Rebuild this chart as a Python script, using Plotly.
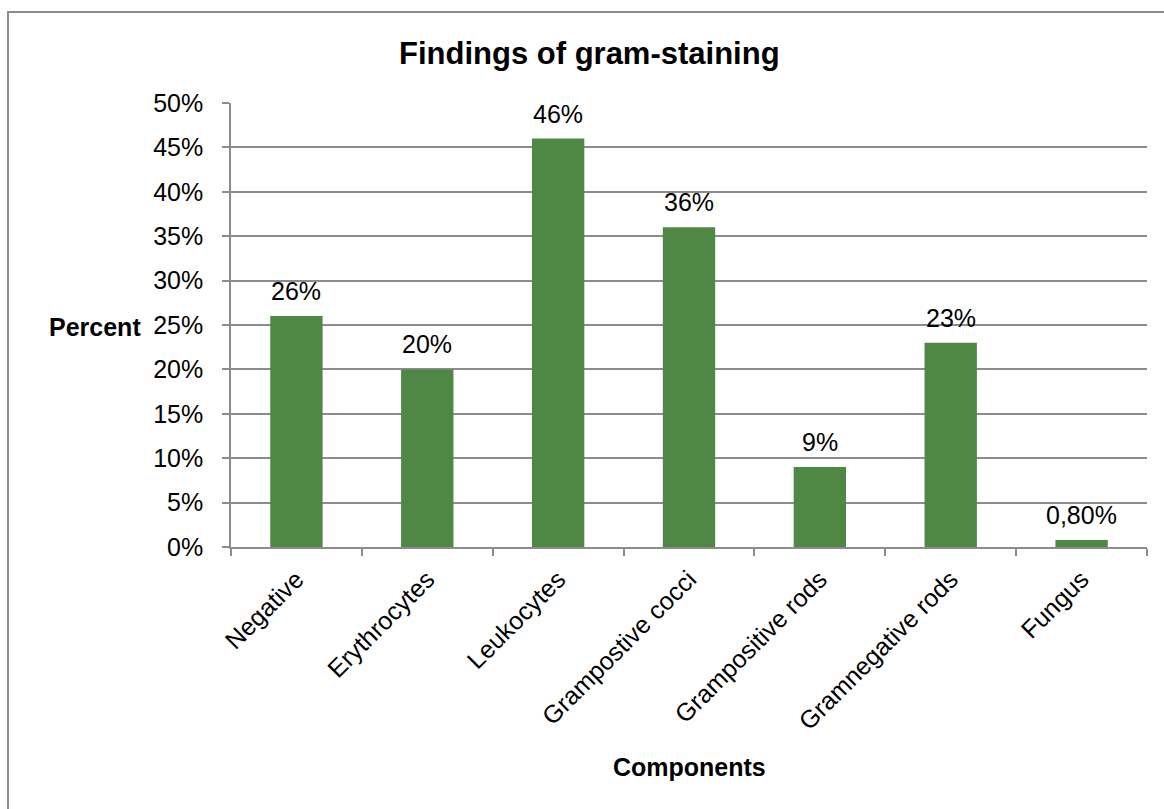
import plotly.graph_objects as go

# Gram-staining findings
categories = ["Negative", "Erythrocytes", "Leukocytes", "Grampostive cocci",
              "Grampositive rods", "Gramnegative rods", "Fungus"]
values = [0.26, 0.20, 0.46, 0.36, 0.09, 0.23, 0.008]
value_labels = ["26%", "20%", "46%", "36%", "9%", "23%", "0,80%"]
y_tick_vals = [0, 0.05, 0.10, 0.15, 0.20, 0.25, 0.30, 0.35, 0.40, 0.45, 0.50]
y_tick_text = ["0%", "5%", "10%", "15%", "20%", "25%", "30%", "35%", "40%", "45%", "50%"]

W, H = 1164, 809
L, R, T, B = 231, 17, 103, 262
pw, ph = W - L - R, H - T - B

def px_x(x):
    return (x - L) / pw

def px_y(y):
    return (H - B - y) / ph

FONT = "Liberation Sans, Arial, sans-serif"
GRID = "#8c8c8c"
BAR = "#4f8744"
TICK_SIZE = 25

fig = go.Figure(go.Bar(
    x=categories, y=values,
    marker=dict(color=BAR, line=dict(width=0)),
    width=0.4, cliponaxis=False,
))

# value labels placed just above each bar
value_annotations = [
    dict(x=c, y=v, xref="x", yref="y", text=t, showarrow=False,
         yanchor="bottom", xanchor="center", yshift=9,
         font=dict(size=TICK_SIZE, family=FONT, color="#000000"))
    for c, v, t in zip(categories, values, value_labels)
]

fig.update_layout(
    width=W, height=H,
    margin=dict(l=L, r=R, t=T, b=B),
    paper_bgcolor="white", plot_bgcolor="white",
    font=dict(family=FONT, color="#000000"),
    showlegend=False,
    xaxis=dict(
        type="category", tickangle=-45, tickson="boundaries",
        ticks="outside", ticklen=7, tickcolor=GRID, tickwidth=1.5,
        ticklabelstandoff=6,
        showline=True, linecolor=GRID, linewidth=1.5,
        showgrid=False, tickfont=dict(size=TICK_SIZE, family=FONT),
    ),
    yaxis=dict(
        range=[0, 0.5], tickvals=y_tick_vals, ticktext=y_tick_text,
        ticks="outside", ticklen=7, tickcolor=GRID, tickwidth=1.5,
        ticklabelstandoff=14,
        showline=True, linecolor=GRID, linewidth=1.5,
        showgrid=True, gridcolor=GRID, gridwidth=1.5,
        zeroline=False, tickfont=dict(size=TICK_SIZE, family=FONT),
    ),
    annotations=value_annotations + [
        dict(text="<b>Findings of gram-staining</b>", xref="paper", yref="paper",
             x=px_x(589), y=px_y(53), showarrow=False,
             font=dict(size=31, family=FONT), xanchor="center", yanchor="middle"),
        dict(text="<b>Percent</b>", xref="paper", yref="paper",
             x=px_x(143), y=px_y(327), showarrow=False,
             font=dict(size=25, family=FONT), xanchor="right", yanchor="middle"),
        dict(text="<b>Components</b>", xref="paper", yref="paper",
             x=px_x(689), y=px_y(767), showarrow=False,
             font=dict(size=25, family=FONT), xanchor="center", yanchor="middle"),
    ],
    shapes=[
        dict(type="rect", xref="paper", yref="paper",
             x0=px_x(8), x1=px_x(1175), y0=px_y(820), y1=px_y(12),
             line=dict(color="#8c8c8c", width=2), fillcolor="rgba(0,0,0,0)", layer="below"),
    ],
)

fig.write_html("out.html")
